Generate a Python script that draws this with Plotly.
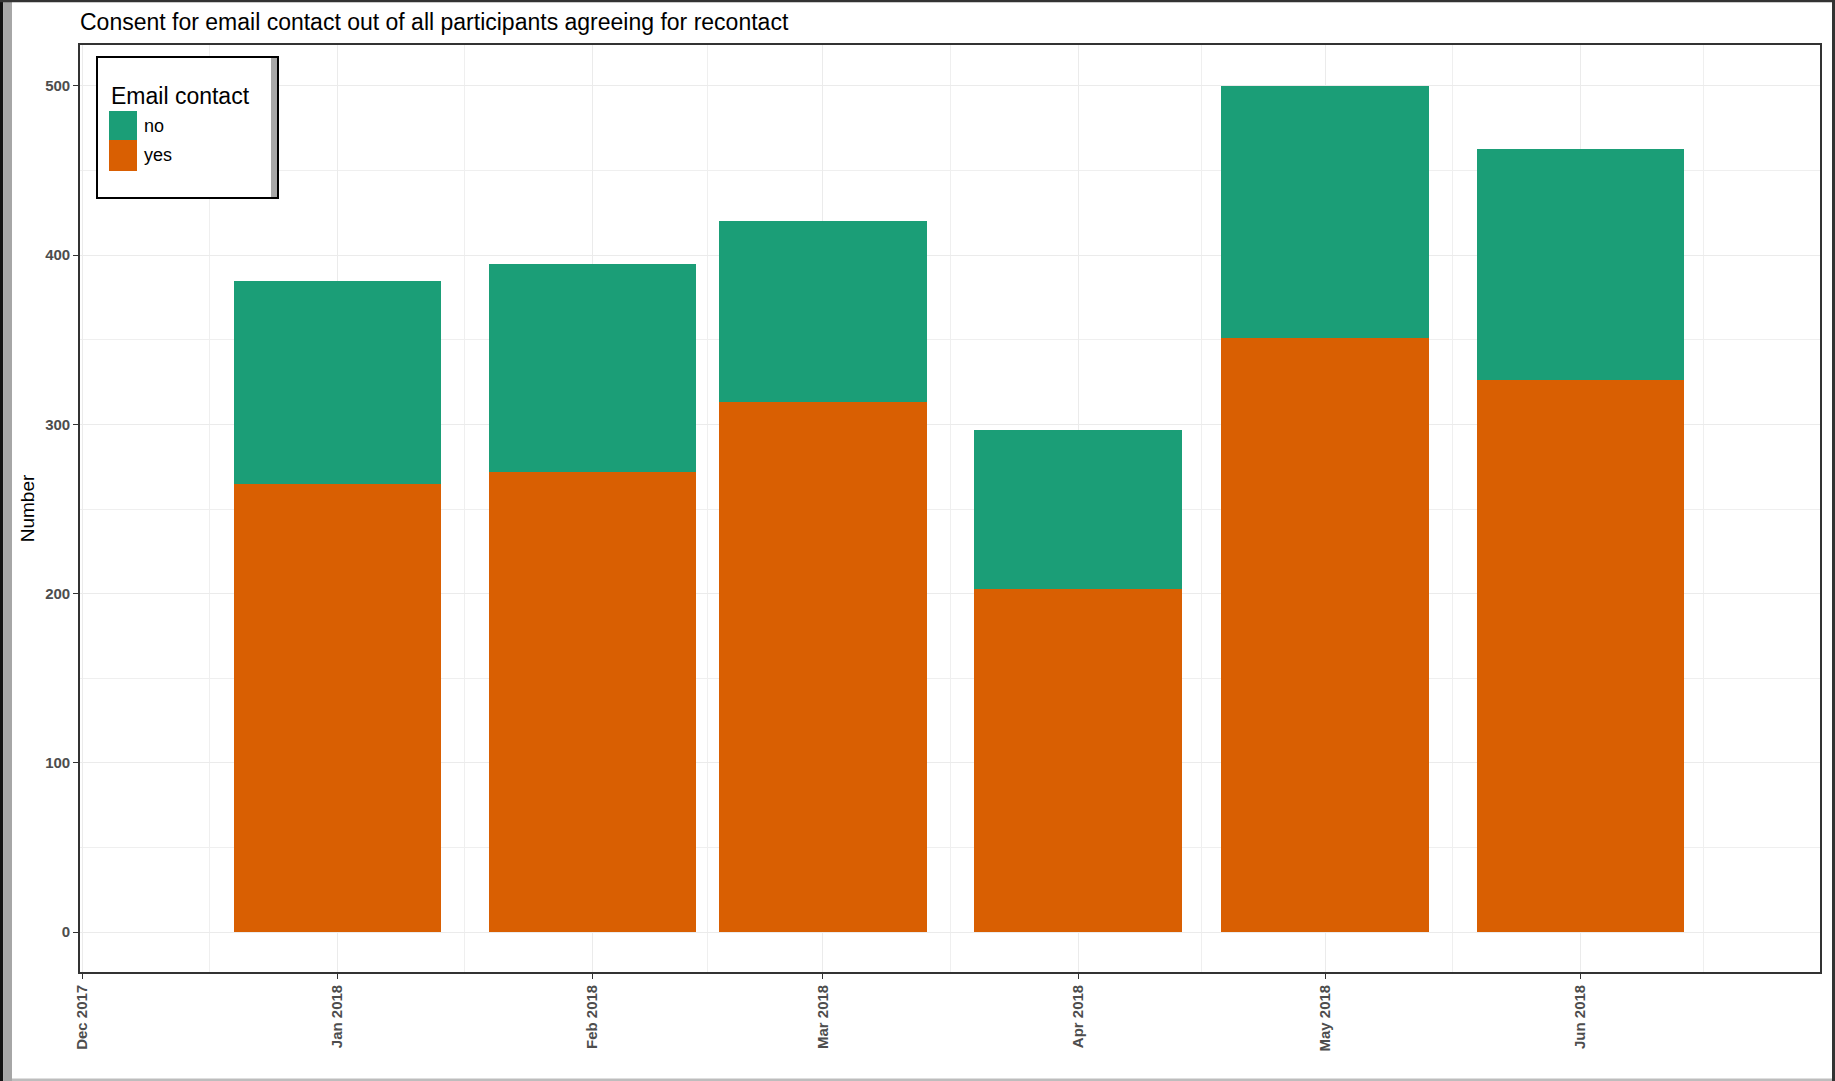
import plotly.graph_objects as go

# ---------------- data ----------------
months = ["2018-01-01", "2018-02-01", "2018-03-01", "2018-04-01", "2018-05-01", "2018-06-01"]
yes_counts = [265, 272, 313, 203, 351, 326]
no_counts = [120, 123, 107, 94, 149, 137]

tick_dates = ["2017-12-01", "2018-01-01", "2018-02-01", "2018-03-01",
              "2018-04-01", "2018-05-01", "2018-06-01"]
tick_labels = ["Dec 2017", "Jan 2018", "Feb 2018", "Mar 2018",
               "Apr 2018", "May 2018", "Jun 2018"]
minor_grid_dates = ["2017-12-16 12:00", "2018-01-16 12:00", "2018-02-15 00:00",
                    "2018-03-16 12:00", "2018-04-16 00:00", "2018-05-16 12:00",
                    "2018-06-16 00:00"]
y_ticks = [0, 100, 200, 300, 400, 500]

series_names = ["yes", "no"]
COL_YES = "#D95F02"
COL_NO = "#1B9E77"

# ---------------- geometry ----------------
W, H = 1835, 1081
L, R, T, B = 80, 1820, 45, 972          # plot area in pixels
BAR_WIDTH_MS = 25.2 * 86400 * 1000      # 0.9 * 28 days

FONT = "Liberation Sans, Arial, sans-serif"


def px(xp):
    return (xp - L) / (R - L)


def py(yp):
    return (B - yp) / (B - T)


fig = go.Figure()
fig.add_trace(go.Bar(x=months, y=yes_counts, name=series_names[0],
                     marker=dict(color=COL_YES, line=dict(width=0)),
                     width=[BAR_WIDTH_MS] * len(months), showlegend=False))
fig.add_trace(go.Bar(x=months, y=no_counts, name=series_names[1],
                     marker=dict(color=COL_NO, line=dict(width=0)),
                     width=[BAR_WIDTH_MS] * len(months), showlegend=False))

fig.update_layout(
    width=W, height=H,
    margin=dict(l=L, r=W - R, t=T, b=H - B, autoexpand=False),
    paper_bgcolor="white", plot_bgcolor="white",
    barmode="stack",
    font=dict(family=FONT, color="black"),
    title=dict(text="Consent for email contact out of all participants agreeing for recontact",
               x=0, xref="paper", xanchor="left",
               y=1 - 22 / H, yref="container", yanchor="middle",
               font=dict(size=23, color="black", family=FONT)),
)

axis_line = "#333333"
fig.update_xaxes(
    type="date",
    range=["2017-11-30 18:00", "2018-06-30 03:00"],
    tickmode="array", tickvals=tick_dates, ticktext=tick_labels,
    tickangle=-90,
    tickfont=dict(size=15, color="#4D4D4D", family=FONT, weight="bold"),
    ticks="outside", ticklen=5, tickwidth=1.3, tickcolor=axis_line,
    showgrid=True, gridcolor="#EBEBEB", gridwidth=1.3,
    minor=dict(tickmode="array", tickvals=minor_grid_dates, showgrid=True,
               gridcolor="#EFEFEF", gridwidth=1, ticks=""),
    showline=True, linecolor=axis_line, linewidth=1.6, mirror=True,
    zeroline=False, fixedrange=True,
)
fig.update_yaxes(
    range=[-23.5, 524.2],
    tickmode="array", tickvals=y_ticks, ticktext=[str(v) for v in y_ticks],
    tickfont=dict(size=15, color="#4D4D4D", family=FONT, weight="bold"),
    ticks="outside", ticklen=5, tickwidth=1.3, tickcolor=axis_line,
    showgrid=True, gridcolor="#EBEBEB", gridwidth=1.3,
    minor=dict(dtick=50, tick0=0, showgrid=True, gridcolor="#EFEFEF", gridwidth=1, ticks=""),
    showline=True, linecolor=axis_line, linewidth=1.6, mirror=True,
    zeroline=False, fixedrange=True,
    title=dict(text="Number", font=dict(size=19, color="black", family=FONT), standoff=6),
)

shapes = []
# ---- manual legend (box, shadow, swatches) ----
shapes.append(dict(type="rect", xref="paper", yref="paper",
                   x0=px(97), x1=px(278), y0=py(198), y1=py(57),
                   fillcolor="white", line=dict(color="black", width=2), layer="above"))
shapes.append(dict(type="rect", xref="paper", yref="paper",
                   x0=px(271), x1=px(277), y0=py(197), y1=py(58),
                   fillcolor="#A8A8A8", line=dict(width=0), layer="above"))
shapes.append(dict(type="rect", xref="paper", yref="paper",
                   x0=px(109), x1=px(137), y0=py(140), y1=py(111),
                   fillcolor=COL_NO, line=dict(width=0), layer="above"))
shapes.append(dict(type="rect", xref="paper", yref="paper",
                   x0=px(109), x1=px(137), y0=py(171), y1=py(140),
                   fillcolor=COL_YES, line=dict(width=0), layer="above"))

# ---- outer screenshot frame ----
shapes.append(dict(type="rect", xref="paper", yref="paper",
                   x0=px(0), x1=px(3.3), y0=py(H), y1=py(0),
                   fillcolor="#111111", line=dict(width=0), layer="above"))
shapes.append(dict(type="rect", xref="paper", yref="paper",
                   x0=px(3.3), x1=px(12), y0=py(H), y1=py(0),
                   fillcolor="#A6A6A6", line=dict(width=0), layer="above"))
shapes.append(dict(type="rect", xref="paper", yref="paper",
                   x0=px(0), x1=px(W), y0=py(2.3), y1=py(0),
                   fillcolor="#333333", line=dict(width=0), layer="above"))
shapes.append(dict(type="rect", xref="paper", yref="paper",
                   x0=px(1832), x1=px(W), y0=py(H), y1=py(0),
                   fillcolor="#333333", line=dict(width=0), layer="above"))
shapes.append(dict(type="rect", xref="paper", yref="paper",
                   x0=px(12), x1=px(1832), y0=py(H), y1=py(1078.5),
                   fillcolor="#BDBDBD", line=dict(width=0), layer="above"))
fig.update_layout(shapes=shapes)

annotations = [
    dict(text="Email contact", xref="paper", yref="paper", x=px(109), y=py(96),
         xanchor="left", yanchor="middle", showarrow=False,
         font=dict(size=23, color="black", family=FONT)),
    dict(text=series_names[1], xref="paper", yref="paper", x=px(142), y=py(126),
         xanchor="left", yanchor="middle", showarrow=False,
         font=dict(size=18, color="black", family=FONT)),
    dict(text=series_names[0], xref="paper", yref="paper", x=px(142), y=py(155),
         xanchor="left", yanchor="middle", showarrow=False,
         font=dict(size=18, color="black", family=FONT)),
]
fig.update_layout(annotations=annotations)

fig.write_html("out.html",
               config={"displayModeBar": False},
               post_script="document.body.style.margin='0px';"
                           "document.body.style.overflow='hidden';")
